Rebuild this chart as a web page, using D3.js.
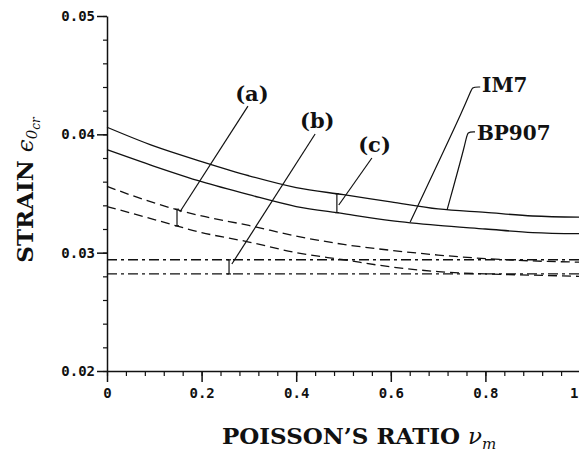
<!DOCTYPE html>
<html>
<head>
<meta charset="utf-8">
<script src="https://cdn.jsdelivr.net/npm/d3@7"></script>
<style>
  body { margin: 0; background: #fff; }
  svg { display: block; }
  .tick text { font-family: "DejaVu Sans Mono", monospace; font-weight: bold; font-size: 14px; fill: #111; }
  .title { font-family: "DejaVu Serif", serif; font-weight: bold; fill: #111; }
  .math { font-family: "DejaVu Serif", serif; font-style: italic; font-weight: normal; }
</style>
</head>
<body>
<svg id="chart" width="579" height="453"></svg>
<script>
// Poisson's ratio of the matrix
const nu = [0, 0.1, 0.2, 0.3, 0.4, 0.5, 0.6, 0.7, 0.8, 0.9, 1.0];

// (c) solid curves
const solidBP907 = [0.0406, 0.0390, 0.0377, 0.0365, 0.0355, 0.0349, 0.0343, 0.0337, 0.0334, 0.0331, 0.0330];
const solidIM7   = [0.0387, 0.0373, 0.0360, 0.0349, 0.0339, 0.0333, 0.0327, 0.0323, 0.0320, 0.0317, 0.0316];
// (a) dashed curves
const dashedBP907 = [0.0356, 0.0342, 0.0331, 0.0323, 0.0314, 0.0307, 0.0302, 0.0298, 0.0295, 0.0293, 0.0292];
const dashedIM7   = [0.0339, 0.0328, 0.0317, 0.0309, 0.0300, 0.0294, 0.0288, 0.0284, 0.0282, 0.0281, 0.0280];
// (b) dash-dot curves
const dotBP907 = [0.0294, 0.0294, 0.0294, 0.0294, 0.0294, 0.0294, 0.0294, 0.0294, 0.0294, 0.0294, 0.0294];
const dotIM7   = [0.0282, 0.0282, 0.0282, 0.0282, 0.0282, 0.0282, 0.0282, 0.0282, 0.0282, 0.0282, 0.0282];

const xMajor = [0, 0.2, 0.4, 0.6, 0.8, 1];
const yMajor = [0.02, 0.03, 0.04, 0.05];

const width = 579, height = 453;
const margin = { top: 16, right: -1, bottom: 82, left: 107 };

const svg = d3.select("#chart");
const x = d3.scaleLinear().domain([0, 1]).range([margin.left, width - margin.right]);
const y = d3.scaleLinear().domain([0.02, 0.05]).range([height - margin.bottom, margin.top]);

// axes
const xMinor = d3.range(0, 1.0001, 0.04);
const yMinor = d3.range(0.02, 0.05001, 0.002);

svg.append("g")
  .attr("transform", `translate(0,${y(0.02)})`)
  .call(d3.axisBottom(x).tickValues(xMinor).tickSize(5).tickFormat(""))
  .call(g => g.select(".domain").remove())
  .call(g => g.selectAll("line").attr("stroke", "#111").attr("stroke-width", 1.2));

svg.append("g")
  .attr("transform", `translate(0,${y(0.02)})`)
  .call(d3.axisBottom(x).tickValues(xMajor).tickSize(11).tickSizeOuter(0).tickPadding(6).tickFormat(d3.format("~g")))
  .call(g => g.select(".domain").attr("stroke", "#111").attr("stroke-width", 1.5))
  .call(g => g.selectAll("line").attr("stroke", "#111").attr("stroke-width", 1.5))
  // last label would fall off the right edge
  .call(g => g.selectAll(".tick text").filter(d => d === 1).attr("text-anchor", "end").attr("dx", -2));

svg.append("g")
  .attr("transform", `translate(${x(0)},0)`)
  .call(d3.axisLeft(y).tickValues(yMinor).tickSize(4).tickFormat(""))
  .call(g => g.select(".domain").remove())
  .call(g => g.selectAll("line").attr("stroke", "#111").attr("stroke-width", 1.2));

svg.append("g")
  .attr("transform", `translate(${x(0)},0)`)
  .call(d3.axisLeft(y).tickValues(yMajor).tickSize(10).tickSizeOuter(0).tickPadding(2).tickFormat(d3.format(".2f")))
  .call(g => g.select(".domain").attr("stroke", "#111").attr("stroke-width", 1.5))
  .call(g => g.selectAll("line").attr("stroke", "#111").attr("stroke-width", 1.5));

// curves
const series = [
  { values: solidBP907, dash: null },
  { values: solidIM7, dash: null },
  { values: dashedBP907, dash: "9,5" },
  { values: dashedIM7, dash: "9,5" },
  { values: dotBP907, dash: "10,4,3,4" },
  { values: dotIM7, dash: "10,4,3,4" }
];

const line = d3.line()
  .x((d, i) => x(nu[i]))
  .y(d => y(d))
  .curve(d3.curveMonotoneX);

svg.append("g").selectAll("path")
  .data(series)
  .join("path")
  .attr("d", d => line(d.values))
  .attr("fill", "none")
  .attr("stroke", "#111")
  .attr("stroke-width", 1.3)
  .attr("stroke-dasharray", d => d.dash);

// markers connecting each pair of curves, with leaders to the labels
const interp = vals => d3.scaleLinear().domain(nu).range(vals);
const markers = [
  { label: "(a)", at: 0.148, upper: dashedBP907, lower: dashedIM7, text: [0.271, 0.04282], leader: [[0.298, 0.04239], [0.154, 0.03344]] },
  { label: "(b)", at: 0.258, upper: dotBP907, lower: dotIM7, text: [0.408, 0.04054], leader: [[0.440, 0.04003], [0.264, 0.02904]] },
  { label: "(c)", at: 0.486, upper: solidBP907, lower: solidIM7, text: [0.531, 0.03851], leader: [[0.560, 0.0380], [0.490, 0.03403]] }
];

const ann = svg.append("g").attr("stroke", "#111").attr("stroke-width", 1.2).attr("fill", "none");
markers.forEach(m => {
  const mx = x(m.at);
  const y0 = y(interp(m.upper)(m.at)), y1 = y(interp(m.lower)(m.at));
  ann.append("line").attr("x1", mx).attr("x2", mx).attr("y1", y0).attr("y2", y1);
  ann.append("line").attr("x1", mx - 2).attr("x2", mx + 2).attr("y1", y0).attr("y2", y0);
  ann.append("line").attr("x1", mx - 2).attr("x2", mx + 2).attr("y1", y1).attr("y2", y1);
  ann.append("path").attr("d", d3.line()(m.leader.map(p => [x(p[0]), y(p[1])])));
  svg.append("text").attr("class", "title")
    .attr("x", x(m.text[0])).attr("y", y(m.text[1]))
    .style("font-size", "21px")
    .text(m.label);
});

// material labels with hooked leaders
const materials = [
  { label: "IM7", text: [0.793, 0.04358], leader: [[0.789, 0.0440], [0.770, 0.04349], [0.641, 0.03259]] },
  { label: "BP907", text: [0.782, 0.03952], leader: [[0.778, 0.0402], [0.761, 0.03969], [0.719, 0.03361]] }
];
materials.forEach(m => {
  ann.append("path").attr("d", d3.line().curve(d3.curveBasis)([
    [x(m.leader[0][0]), y(m.leader[0][1])],
    [x(m.leader[1][0]), y(m.leader[0][1])],
    [x(m.leader[1][0]), y(m.leader[1][1])],
    [x(m.leader[2][0]), y(m.leader[2][1])]
  ]));
  svg.append("text").attr("class", "title")
    .attr("x", x(m.text[0])).attr("y", y(m.text[1]))
    .style("font-size", "20px")
    .text(m.label);
});

// axis titles
const xt = svg.append("text").attr("class", "title")
  .attr("x", 222).attr("y", 444)
  .style("font-size", "23px");
xt.append("tspan").text("POISSON\u2019S RATIO ");
xt.append("tspan").attr("class", "math").text("\u03bd");
xt.append("tspan").attr("class", "math").attr("dy", 5).style("font-size", "15px").text("m");

const yt = svg.append("text").attr("class", "title")
  .attr("transform", "translate(33,190) rotate(-90)")
  .attr("text-anchor", "middle")
  .style("font-size", "23px");
yt.append("tspan").text("STRAIN ");
yt.append("tspan").attr("class", "math").text("\u03f5");
yt.append("tspan").attr("class", "math").attr("dy", 4).style("font-size", "15px").text("0");
yt.append("tspan").attr("class", "math").attr("dy", 3).style("font-size", "12px").text("cr");
</script>
</body>
</html>
